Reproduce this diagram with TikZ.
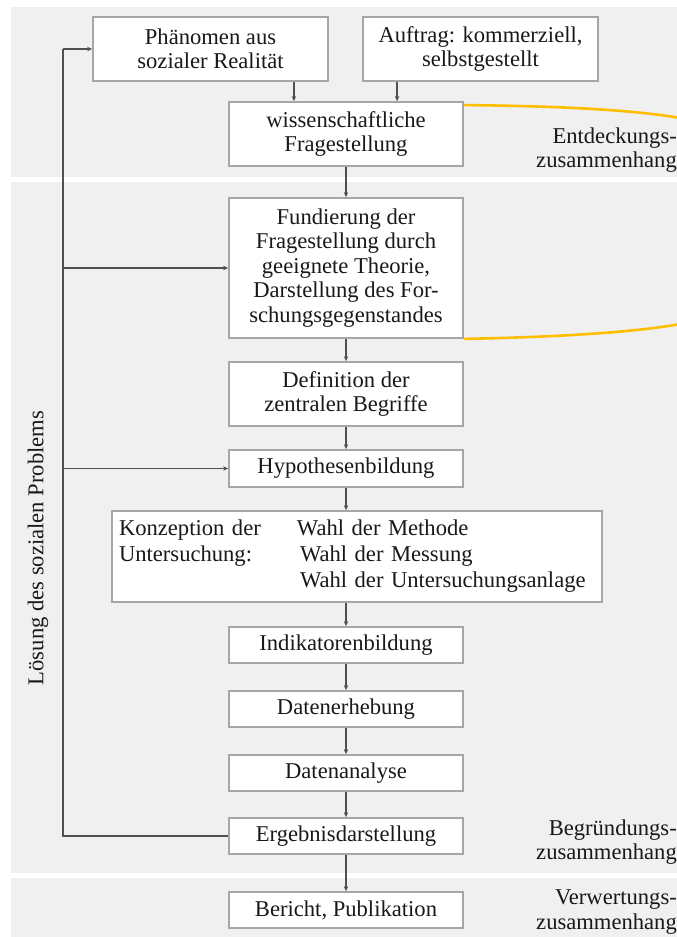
\documentclass[tikz,border=0pt]{standalone}
\usepackage{fontspec}
\setmainfont{Liberation Serif}
\usetikzlibrary{arrows.meta,calc}
\definecolor{bandgray}{RGB}{240,240,240}
\definecolor{boxline}{RGB}{166,166,166}
\definecolor{conncol}{RGB}{80,80,80}
\definecolor{txt}{RGB}{25,25,25}
\definecolor{gold}{RGB}{255,190,0}
\begin{document}
\begin{tikzpicture}[x=1pt,y=-1pt,
  font=\fontsize{22.6}{24.5}\selectfont,
  box/.style={draw=boxline, line width=1.8pt, fill=white, text=txt, align=center,
    inner sep=0pt, minimum width=234pt, minimum height=36pt},
  lbl/.style={text=txt, inner sep=0pt},
  conn/.style={draw=conncol, line width=1.3pt},
  arr/.style={conn, -{Stealth[length=5pt,width=4.5pt]}},
]
\useasboundingbox (0,0) rectangle (677,937);
% background bands
\fill[bandgray] (11,7) rectangle (677,177);
\fill[bandgray] (11,182) rectangle (677,873);
\fill[bandgray] (11,878) rectangle (677,937);

% boxes
\node[box, minimum width=235pt, minimum height=64pt] (phan) at (210.5,49) {Phänomen aus\\sozialer Realität};
\node[box, minimum width=235pt, minimum height=64pt] (auft) at (480.5,49) {Auftrag: kommerziell,\\selbstgestellt};
\node[box, minimum height=64pt] (wiss) at (346,134) {wissenschaftliche\\Fragestellung};
\node[box, minimum height=140pt] (fund) at (346,268) {Fundierung der\\Fragestellung durch\\geeignete Theorie,\\Darstellung des For-\\schungsgegenstandes};
\node[box, minimum height=64pt] (defi) at (346,394) {Definition der\\zentralen Begriffe};
\node[box, minimum height=37pt] (hypo) at (346,468.5) {Hypothesenbildung};
\node[box, minimum width=490pt, minimum height=91pt, text width=476pt, align=left] (konz) at (357,556.5)
  {\makebox[178pt][l]{Konzeption der}Wahl der Methode\\[1.5pt]
   \makebox[181pt][l]{Untersuchung:}Wahl der Messung\\[1.5pt]
   \hspace*{181pt}Wahl der Untersuchungsanlage};
\node[box] (indi) at (346,645) {Indikatorenbildung};
\node[box] (erhe) at (346,709) {Datenerhebung};
\node[box] (anal) at (346,773) {Datenanalyse};
\node[box] (ergb) at (346,836) {Ergebnisdarstellung};
\node[box] (beri) at (346,910) {Bericht, Publikation};

% orange bracket
\begin{scope}
\clip (0,0) rectangle (677,937);
\draw[gold, line width=2.6pt] ($(wiss.north east)+(0,4)$) .. controls (560,106) and (650,110) .. (700,122);
\draw[gold, line width=2.6pt] (fund.south east) .. controls (560,337) and (650,332) .. (700,320);
\end{scope}

% labels
\node[lbl, align=right, anchor=east] (entd) at (677,150) {Entdeckungs-\\zusammenhang};
\node[lbl, align=right, anchor=east] (begr) at (677,842) {Begründungs-\\zusammenhang};
\node[lbl, align=right, anchor=east] (verw) at (677,912) {Verwertungs-\\zusammenhang};
\node[lbl, rotate=90] (loes) at (38,548) {Lösung des sozialen Problems};

% vertical flow
\coordinate (pA) at ($(phan.south east)+(-35,0)$);
\coordinate (aA) at ($(auft.south west)+(35,0)$);
\draw[arr] (pA) -- (pA |- wiss.north);
\draw[arr] (aA) -- (aA |- wiss.north);
\draw[arr] (wiss) -- (fund);
\draw[arr] (fund) -- (defi);
\draw[arr] (defi) -- (hypo);
\draw[arr] (hypo.south) -- (hypo.south |- konz.north);
\draw[arr] (hypo.south |- konz.south) -- (indi.north);
\draw[arr] (indi) -- (erhe);
\draw[arr] (erhe) -- (anal);
\draw[arr] (anal) -- (ergb);
\draw[arr] (ergb) -- (beri);

% feedback line on the left
\coordinate (L) at (63,0);
\draw[conn] (ergb.west) -- (ergb.west -| L) -- (phan.west -| L);
\draw[arr] (phan.west -| L) -- (phan.west);
\draw[arr] (fund.west -| L) -- (fund.west);
\draw[arr] (hypo.west -| L) -- (hypo.west);
\end{tikzpicture}
\end{document}
